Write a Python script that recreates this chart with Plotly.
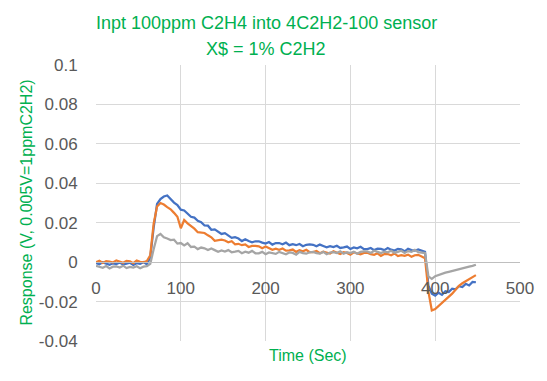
import plotly.graph_objects as go

time_s = list(range(0, 449, 4))

blue = [
    -0.0004, -0.0011, -0.0001, -0.0007, -0.0013, -0.0006, -0.0010, -0.0002, -0.0012, -0.0008, -0.0003, -0.0014, -0.0005, -0.0009, 0.0000, -0.0011,
    0.0025, 0.0175, 0.0295, 0.0320, 0.0333, 0.0338, 0.0318, 0.0302, 0.0290, 0.0266, 0.0262, 0.0248, 0.0230, 0.0226, 0.0210, 0.0203,
    0.0186, 0.0185, 0.0164, 0.0166, 0.0156, 0.0143, 0.0147, 0.0133, 0.0123, 0.0127, 0.0120, 0.0107, 0.0116, 0.0107, 0.0101, 0.0106,
    0.0106, 0.0099, 0.0094, 0.0102, 0.0089, 0.0097, 0.0097, 0.0091, 0.0099, 0.0086, 0.0091, 0.0086, 0.0092, 0.0081, 0.0088, 0.0090,
    0.0088, 0.0080, 0.0089, 0.0082, 0.0075, 0.0081, 0.0076, 0.0083, 0.0072, 0.0075, 0.0079, 0.0067, 0.0075, 0.0070, 0.0078, 0.0066,
    0.0066, 0.0072, 0.0061, 0.0069, 0.0067, 0.0061, 0.0072, 0.0063, 0.0059, 0.0067, 0.0065, 0.0055, 0.0068, 0.0061, 0.0058, 0.0064,
    0.0058, 0.0052, -0.0120, -0.0160, -0.0170, -0.0155, -0.0166, -0.0148, -0.0152, -0.0135, -0.0138, -0.0122, -0.0126, -0.0110, -0.0118, -0.0100,
    -0.0102,
]

orange = [
    0.0000, 0.0007, -0.0004, 0.0005, 0.0003, -0.0002, 0.0009, 0.0001, -0.0003, 0.0006, 0.0004, -0.0005, 0.0008, 0.0002, -0.0001, 0.0006,
    0.0035, 0.0195, 0.0282, 0.0300, 0.0292, 0.0279, 0.0268, 0.0250, 0.0230, 0.0172, 0.0214, 0.0197, 0.0184, 0.0170, 0.0152, 0.0150,
    0.0148, 0.0136, 0.0126, 0.0108, 0.0111, 0.0114, 0.0110, 0.0101, 0.0106, 0.0090, 0.0093, 0.0086, 0.0090, 0.0077, 0.0082, 0.0083,
    0.0080, 0.0071, 0.0079, 0.0071, 0.0063, 0.0068, 0.0063, 0.0069, 0.0058, 0.0060, 0.0064, 0.0052, 0.0060, 0.0055, 0.0063, 0.0051,
    0.0051, 0.0057, 0.0045, 0.0053, 0.0050, 0.0044, 0.0055, 0.0046, 0.0041, 0.0050, 0.0047, 0.0038, 0.0050, 0.0044, 0.0040, 0.0047,
    0.0048, 0.0041, 0.0037, 0.0045, 0.0032, 0.0041, 0.0041, 0.0035, 0.0044, 0.0031, 0.0036, 0.0032, 0.0038, 0.0027, 0.0035, 0.0037,
    0.0030, 0.0020, -0.0150, -0.0245, -0.0238, -0.0222, -0.0208, -0.0192, -0.0178, -0.0160, -0.0140, -0.0120, -0.0107, -0.0096, -0.0086, -0.0076,
    -0.0066,
]

gray = [
    -0.0019, -0.0025, -0.0029, -0.0020, -0.0032, -0.0023, -0.0022, -0.0027, -0.0018, -0.0030, -0.0024, -0.0028, -0.0021, -0.0031, -0.0023, -0.0020,
    -0.0008, 0.0065, 0.0132, 0.0143, 0.0126, 0.0120, 0.0112, 0.0114, 0.0094, 0.0097, 0.0085, 0.0096, 0.0077, 0.0079, 0.0066, 0.0074,
    0.0070, 0.0061, 0.0069, 0.0061, 0.0053, 0.0059, 0.0054, 0.0061, 0.0050, 0.0053, 0.0057, 0.0045, 0.0053, 0.0048, 0.0057, 0.0045,
    0.0045, 0.0052, 0.0040, 0.0049, 0.0047, 0.0042, 0.0052, 0.0044, 0.0040, 0.0049, 0.0047, 0.0038, 0.0052, 0.0046, 0.0043, 0.0050,
    0.0052, 0.0046, 0.0043, 0.0052, 0.0040, 0.0049, 0.0051, 0.0046, 0.0055, 0.0043, 0.0050, 0.0046, 0.0053, 0.0043, 0.0052, 0.0055,
    0.0054, 0.0047, 0.0058, 0.0052, 0.0046, 0.0053, 0.0050, 0.0058, 0.0048, 0.0052, 0.0058, 0.0047, 0.0056, 0.0052, 0.0062, 0.0051,
    0.0050, 0.0046, -0.0072, -0.0085, -0.0071, -0.0064, -0.0059, -0.0053, -0.0049, -0.0044, -0.0040, -0.0036, -0.0032, -0.0028, -0.0023, -0.0019,
    -0.0013,
]

x_range = [0, 500]
y_range = [-0.04, 0.1]
y_tickvals = [-0.04, -0.02, 0, 0.02, 0.04, 0.06, 0.08, 0.1]
y_ticktext = ["-0.04", "-0.02", "0", "0.02", "0.04", "0.06", "0.08", "0.1"]
x_tickvals = [0, 100, 200, 300, 400, 500]

title_line1 = "Inpt 100ppm C2H4 into 4C2H2-100 sensor"
title_line2 = "X$ = 1% C2H2"
x_title = "Time (Sec)"
y_title = "Response (V, 0.005V=1ppmC2H2)"

GREEN = "#00B050"
FONT = "Liberation Sans"

fig = go.Figure()
for vals, col, name in [(blue, "#4472C4", "S1"), (orange, "#ED7D31", "S2"), (gray, "#A5A5A5", "S3")]:
    fig.add_trace(go.Scatter(x=time_s, y=vals, mode="lines", name=name,
                             line=dict(color=col, width=2.25), showlegend=False))

zero_pos = (0 - y_range[0]) / (y_range[1] - y_range[0])

fig.update_layout(
    width=539, height=373,
    margin=dict(l=88, r=27, t=57, b=40, autoexpand=False),
    paper_bgcolor="white", plot_bgcolor="white",
    font=dict(family=FONT, color="#595959"),
    xaxis=dict(range=x_range, tickvals=x_tickvals, showgrid=True, gridcolor="#D9D9D9",
               gridwidth=1, zeroline=False, anchor="free", position=zero_pos,
               showline=True, linecolor="#BFBFBF", linewidth=1, automargin=False,
               ticks="outside", ticklen=10, tickcolor="rgba(0,0,0,0)",
               tickfont=dict(size=17, color="#595959")),
    yaxis=dict(range=y_range, tickvals=y_tickvals, ticktext=y_ticktext, showgrid=True,
               gridcolor="#D9D9D9", gridwidth=1, zeroline=False, showline=False,
               automargin=False,
               ticks="outside", ticklen=14, tickcolor="rgba(0,0,0,0)",
               tickfont=dict(size=17, color="#595959")),
)

fig.add_annotation(text=title_line1, xref="paper", yref="paper", x=0.401, y=1.152,
                   xanchor="center", yanchor="middle", showarrow=False,
                   font=dict(family=FONT, size=18, color=GREEN))
fig.add_annotation(text=title_line2, xref="paper", yref="paper", x=0.401, y=1.059,
                   xanchor="center", yanchor="middle", showarrow=False,
                   font=dict(family=FONT, size=18, color=GREEN))
fig.add_annotation(text=x_title, xref="paper", yref="paper", x=0.5, y=-0.051,
                   xanchor="center", yanchor="middle", showarrow=False,
                   font=dict(family=FONT, size=16, color=GREEN))
fig.add_annotation(text=y_title, xref="paper", yref="paper", x=-0.166, y=0.5,
                   xanchor="center", yanchor="middle", showarrow=False, textangle=-90,
                   font=dict(family=FONT, size=16, color=GREEN))

fig.write_html("out.html")
